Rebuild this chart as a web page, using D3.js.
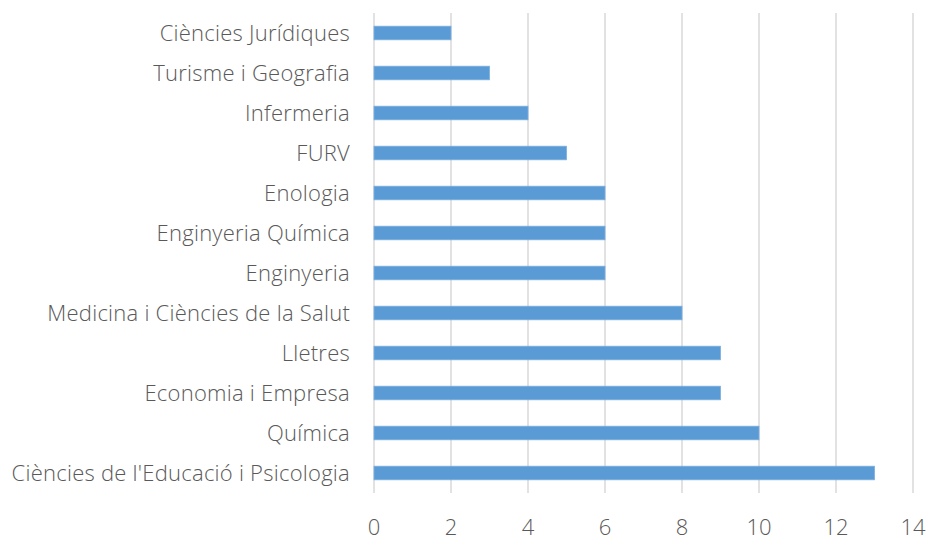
<!DOCTYPE html>
<html><head><meta charset="utf-8">
<script src="https://cdn.jsdelivr.net/npm/d3@7"></script>
<style>body{margin:0;background:#fff}svg{display:block}</style>
</head><body>
<svg id="c" width="928" height="541"></svg>
<script>
const categories = ["Ciències Jurídiques","Turisme i Geografia","Infermeria","FURV","Enologia","Enginyeria Química","Enginyeria","Medicina i Ciències de la Salut","Lletres","Economia i Empresa","Química","Ciències de l'Educació i Psicologia"];
const values = [2,3,4,5,6,6,6,8,9,9,10,13];
const ticks = [0,2,4,6,8,10,12,14];

(function(){
const svg = d3.select("#c");
const mLeft = 374, mRight = 913, mTop = 13, mBottom = 493;
const x = d3.scaleLinear().domain([0,14]).range([mLeft,mRight]);
const y = d3.scaleBand().domain(categories).range([mTop,mBottom]).paddingInner(0.66).paddingOuter(0.33);
const font = "'Open Sans', sans-serif";

svg.append("g").selectAll("line").data(ticks).join("line")
  .attr("x1",d=>x(d)).attr("x2",d=>x(d)).attr("y1",mTop).attr("y2",mBottom)
  .attr("stroke","#d9d9d9").attr("stroke-width",1.5);

svg.append("g").selectAll("rect").data(categories).join("rect")
  .attr("x",x(0)).attr("y",d=>y(d)).attr("height",y.bandwidth())
  .attr("width",(d,i)=>x(values[i])-x(0))
  .attr("fill","#5b9bd5").attr("stroke","#7aaee0").attr("stroke-width",0.8);

svg.append("g").selectAll("text").data(categories).join("text")
  .attr("x",mLeft-24).attr("y",d=>y(d)+y.bandwidth()/2).attr("dy","0.36em")
  .attr("text-anchor","end").attr("font-family",font).attr("font-size",22)
  .attr("letter-spacing",0.25)
  .attr("font-weight",300).attr("fill","#595959").text(d=>d);

svg.append("g").selectAll("text").data(ticks).join("text")
  .attr("x",d=>x(d)).attr("y",527).attr("dy","0.36em")
  .attr("text-anchor","middle").attr("font-family",font).attr("font-size",22)
  .attr("font-weight",300).attr("fill","#595959").text(d=>d);
})();
</script>
</body></html>
